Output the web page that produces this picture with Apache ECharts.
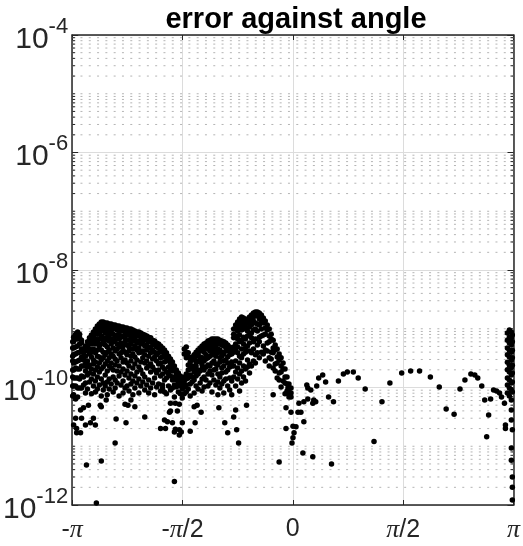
<!DOCTYPE html>
<html>
<head>
<meta charset="utf-8">
<script src="https://cdn.jsdelivr.net/npm/echarts@6/dist/echarts.min.js"></script>
<style>
html, body { margin: 0; padding: 0; background: #fff; }
#chart { width: 523px; height: 546px; }
</style>
</head>
<body>
<div id="chart"></div>
<script>
// Tick labels
const xTickLabels = ['-π', '-π/2', '0', 'π/2', 'π'];
const yTickExponents = [-12, -10, -8, -6, -4];

// Dense bands: one angle per column, with the errors stacked in that column
const bandAngles = [
  -3.134, -3.121, -3.092, -3.064, -3.036, -3.008, -2.980, -2.952, -2.924, -2.895,
  -2.867, -2.839, -2.811, -2.783, -2.755, -2.727, -2.699, -2.671, -2.642, -2.614,
  -2.586, -2.558, -2.530, -2.502, -2.474, -2.446, -2.417, -2.389, -2.361, -2.333,
  -2.305, -2.277, -2.249, -2.220, -2.192, -2.164, -2.136, -2.108, -2.080, -2.052,
  -2.024, -1.996, -1.968, -1.939, -1.911, -1.883, -1.855, -1.827, -1.799, -1.770,
  -1.742, -1.714, -1.686, -1.658, -1.630, -1.602, -1.574,
  -1.546, -1.517, -1.489, -1.461, -1.433, -1.405, -1.377, -1.349, -1.320, -1.292,
  -1.264, -1.236, -1.208, -1.180, -1.152, -1.124, -1.096, -1.067, -1.039, -1.011,
  -0.983, -0.955, -0.927, -0.899, -0.870,
  -0.842, -0.814, -0.786, -0.758, -0.730, -0.702, -0.674, -0.645, -0.617, -0.589,
  -0.561, -0.533, -0.505, -0.477, -0.448, -0.420, -0.392, -0.364, -0.336, -0.308,
  -0.280, -0.251, -0.223, -0.195, -0.167, -0.139, -0.111, -0.083, -0.055, -0.026,
  3.055, 3.083, 3.111, 3.125
];
const bandErrors = [
  [6.0e-10, 4.7e-10, 3.4e-10, 2.83e-10, 1.99e-10, 1.51e-10, 1.06e-10, 7.2e-11],
  [7.2e-10, 6.0e-10, 4.7e-10, 3.6e-10, 2.62e-10, 1.99e-10, 1.45e-10, 1.06e-10, 7.5e-11],
  [8.1e-10, 6.7e-10, 4.9e-10, 3.7e-10, 2.72e-10, 2.15e-10, 1.45e-10, 1.06e-10, 6.4e-11],
  [8.8e-10, 7.8e-10, 6.7e-10, 5.1e-10, 3.9e-10, 2.83e-10, 2.06e-10, 1.45e-10, 9.8e-11, 6.9e-11],
  [8.1e-10, 7.0e-10, 5.5e-10, 4.0e-10, 2.94e-10, 2.06e-10, 1.4e-10, 9.8e-11],
  [6.4e-10, 5.7e-10, 4.5e-10, 3.3e-10, 2.32e-10, 1.57e-10, 9.8e-11],
  [4.5e-10, 3.9e-10, 2.94e-10, 2.32e-10, 1.51e-10, 1.1e-10],
  [5.1e-10, 4.5e-10, 3.4e-10, 2.52e-10, 1.91e-10, 1.19e-10, 8.1e-11],
  [6.0e-10, 5.1e-10, 4.2e-10, 2.83e-10, 2.23e-10, 1.63e-10, 9.4e-11],
  [7.0e-10, 6.2e-10, 4.5e-10, 3.7e-10, 2.42e-10, 1.77e-10, 1.24e-10],
  [7.8e-10, 7.0e-10, 5.5e-10, 4.0e-10, 3.3e-10, 2.06e-10, 1.4e-10, 7.8e-11],
  [8.8e-10, 7.5e-10, 6.2e-10, 4.5e-10, 2.94e-10, 2.52e-10, 1.7e-10, 1.06e-10],
  [9.9e-10, 8.8e-10, 6.7e-10, 5.5e-10, 3.9e-10, 2.72e-10, 1.99e-10, 1.29e-10, 8.4e-11],
  [1.11e-9, 9.5e-10, 8.1e-10, 6.0e-10, 4.35e-10, 3.4e-10, 2.23e-10, 1.51e-10, 9.4e-11],
  [1.2e-9, 1.07e-9, 8.5e-10, 6.7e-10, 5.1e-10, 3.3e-10, 2.62e-10, 1.84e-10, 1.1e-10],
  [1.3e-9, 1.16e-9, 9.2e-10, 7.5e-10, 5.5e-10, 4.35e-10, 2.94e-10, 2.06e-10, 1.4e-10, 7.2e-11],
  [1.3e-9, 1.11e-9, 9.9e-10, 7.0e-10, 6.0e-10, 4.0e-10, 3.2e-10, 2.23e-10, 1.19e-10, 9.1e-11],
  [1.25e-9, 1.07e-9, 8.5e-10, 6.4e-10, 5.3e-10, 3.6e-10, 2.52e-10, 1.63e-10, 1.06e-10],
  [1.25e-9, 1.11e-9, 9.2e-10, 7.2e-10, 4.9e-10, 4.0e-10, 2.83e-10, 1.91e-10, 1.24e-10, 7.5e-11],
  [1.2e-9, 1.03e-9, 7.8e-10, 6.2e-10, 4.35e-10, 3.2e-10, 2.32e-10, 1.4e-10, 9.4e-11],
  [1.2e-9, 1.07e-9, 8.8e-10, 6.7e-10, 5.5e-10, 3.7e-10, 2.62e-10, 2.15e-10, 1.15e-10],
  [1.16e-9, 9.9e-10, 8.1e-10, 6.0e-10, 4.7e-10, 3.4e-10, 1.99e-10, 1.51e-10, 8.4e-11],
  [1.16e-9, 1.03e-9, 7.5e-10, 6.4e-10, 4.2e-10, 3.06e-10, 2.42e-10, 1.34e-10, 9.8e-11],
  [1.11e-9, 9.5e-10, 7.8e-10, 5.5e-10, 4.5e-10, 2.83e-10, 1.91e-10, 1.19e-10],
  [1.11e-9, 9.9e-10, 8.1e-10, 6.7e-10, 4.9e-10, 3.7e-10, 2.32e-10, 1.57e-10, 7.2e-11],
  [1.07e-9, 9.2e-10, 7.2e-10, 5.7e-10, 3.9e-10, 3.2e-10, 1.84e-10, 1.1e-10],
  [1.07e-9, 9.5e-10, 7.5e-10, 5.1e-10, 4.35e-10, 2.72e-10, 2.06e-10, 1.29e-10, 8.1e-11],
  [1.03e-9, 8.8e-10, 7.0e-10, 6.0e-10, 4.0e-10, 2.94e-10, 1.63e-10, 9.8e-11],
  [1.03e-9, 9.2e-10, 7.8e-10, 5.3e-10, 3.6e-10, 2.62e-10, 1.91e-10, 1.06e-10],
  [9.9e-10, 8.5e-10, 6.4e-10, 4.9e-10, 4.2e-10, 2.32e-10, 1.45e-10, 8.7e-11],
  [9.9e-10, 8.8e-10, 7.2e-10, 5.5e-10, 3.4e-10, 2.83e-10, 1.7e-10, 1.15e-10],
  [9.5e-10, 8.1e-10, 6.2e-10, 4.5e-10, 3.7e-10, 2.15e-10, 1.29e-10, 7.5e-11],
  [9.2e-10, 7.8e-10, 6.7e-10, 5.1e-10, 3.3e-10, 2.52e-10, 1.57e-10, 9.8e-11],
  [8.8e-10, 7.5e-10, 5.7e-10, 4.35e-10, 2.94e-10, 1.84e-10, 1.19e-10],
  [8.8e-10, 7.8e-10, 6.2e-10, 4.7e-10, 3.9e-10, 2.23e-10, 1.4e-10, 8.1e-11],
  [8.5e-10, 7.2e-10, 5.5e-10, 4.0e-10, 2.72e-10, 1.99e-10, 1.06e-10],
  [8.1e-10, 7.0e-10, 6.0e-10, 4.2e-10, 3.2e-10, 1.7e-10, 1.24e-10],
  [7.8e-10, 6.7e-10, 5.1e-10, 3.6e-10, 2.62e-10, 1.51e-10, 9.1e-11],
  [7.5e-10, 6.4e-10, 5.3e-10, 4.35e-10, 2.83e-10, 2.15e-10, 1.1e-10],
  [7.2e-10, 6.2e-10, 4.7e-10, 3.4e-10, 2.32e-10, 1.34e-10, 8.1e-11],
  [7.0e-10, 6.0e-10, 4.9e-10, 3.9e-10, 2.52e-10, 1.84e-10, 9.8e-11],
  [6.4e-10, 5.7e-10, 4.35e-10, 3.06e-10, 2.23e-10, 1.19e-10],
  [6.2e-10, 5.3e-10, 4.0e-10, 3.3e-10, 1.99e-10, 1.45e-10, 7.5e-11],
  [5.7e-10, 4.9e-10, 3.6e-10, 2.83e-10, 1.77e-10, 1.02e-10],
  [5.5e-10, 4.7e-10, 3.9e-10, 2.52e-10, 1.99e-10, 1.15e-10],
  [5.1e-10, 4.35e-10, 3.2e-10, 2.62e-10, 1.57e-10, 8.7e-11],
  [4.7e-10, 4.0e-10, 3.3e-10, 2.23e-10, 1.7e-10, 9.8e-11],
  [4.35e-10, 3.7e-10, 2.72e-10, 2.06e-10, 1.34e-10, 8.4e-11],
  [3.9e-10, 3.3e-10, 2.83e-10, 1.84e-10, 1.45e-10, 7.8e-11],
  [3.4e-10, 2.94e-10, 2.23e-10, 1.7e-10, 1.06e-10],
  [3.06e-10, 2.62e-10, 1.99e-10, 1.57e-10, 9.1e-11],
  [2.72e-10, 2.32e-10, 1.91e-10, 1.34e-10, 9.8e-11],
  [2.32e-10, 1.99e-10, 1.51e-10, 1.1e-10, 6.9e-11],
  [1.99e-10, 1.7e-10, 1.34e-10, 1.02e-10],
  [1.77e-10, 1.51e-10, 1.19e-10, 8.4e-11],
  [1.57e-10, 1.34e-10, 1.06e-10, 7.8e-11],
  [1.4e-10, 1.19e-10, 9.4e-11, 6.6e-11],
  [4.5e-10, 3.7e-10, 1.51e-10, 1.29e-10, 1.02e-10, 7.8e-11],
  [4.9e-10, 4.0e-10, 3.2e-10, 1.7e-10, 1.4e-10, 1.1e-10, 8.4e-11],
  [3.9e-10, 3.3e-10, 2.42e-10, 1.99e-10, 1.45e-10, 9.4e-11],
  [3.2e-10, 2.72e-10, 2.06e-10, 1.63e-10, 1.15e-10, 7.2e-11],
  [3.3e-10, 2.94e-10, 2.32e-10, 1.51e-10, 1.24e-10],
  [3.6e-10, 3.06e-10, 2.15e-10, 1.84e-10, 1.34e-10, 8.1e-11],
  [4.0e-10, 3.4e-10, 2.72e-10, 2.32e-10, 1.57e-10, 1.06e-10],
  [4.35e-10, 3.7e-10, 2.83e-10, 1.99e-10, 1.7e-10, 9.4e-11],
  [4.7e-10, 4.2e-10, 3.3e-10, 2.72e-10, 1.91e-10, 1.19e-10],
  [5.1e-10, 4.35e-10, 3.2e-10, 2.42e-10, 2.06e-10, 1.4e-10, 8.7e-11],
  [5.5e-10, 4.7e-10, 4.0e-10, 2.83e-10, 1.99e-10, 1.51e-10, 1.02e-10],
  [5.7e-10, 5.1e-10, 3.6e-10, 3.06e-10, 2.23e-10, 1.34e-10],
  [6.2e-10, 5.3e-10, 4.5e-10, 3.2e-10, 2.42e-10, 1.7e-10, 1.06e-10],
  [6.4e-10, 5.5e-10, 4.2e-10, 3.4e-10, 2.32e-10, 1.91e-10, 1.19e-10],
  [6.7e-10, 5.7e-10, 4.9e-10, 3.6e-10, 2.62e-10, 1.63e-10, 8.4e-11],
  [6.7e-10, 6.0e-10, 4.35e-10, 3.7e-10, 2.83e-10, 1.99e-10, 1.34e-10],
  [6.7e-10, 5.7e-10, 5.1e-10, 3.4e-10, 2.52e-10, 2.06e-10, 1.1e-10],
  [6.7e-10, 6.0e-10, 4.5e-10, 3.9e-10, 2.42e-10, 1.7e-10, 1.24e-10, 7.5e-11],
  [6.4e-10, 5.5e-10, 4.35e-10, 3.2e-10, 2.72e-10, 1.51e-10, 9.8e-11],
  [6.2e-10, 5.3e-10, 4.0e-10, 3.4e-10, 2.15e-10, 1.77e-10, 1.15e-10],
  [6.0e-10, 5.1e-10, 3.7e-10, 2.83e-10, 2.32e-10, 1.29e-10, 8.1e-11],
  [5.7e-10, 4.9e-10, 4.2e-10, 2.94e-10, 1.84e-10, 1.4e-10],
  [5.3e-10, 4.5e-10, 3.3e-10, 2.62e-10, 1.99e-10, 1.06e-10],
  [4.9e-10, 4.2e-10, 3.6e-10, 2.23e-10, 1.45e-10, 9.1e-11],
  [4.5e-10, 3.7e-10, 2.72e-10, 2.32e-10, 1.29e-10, 7.5e-11],
  [9.9e-10, 8.1e-10, 7.0e-10, 4.9e-10, 4.0e-10, 2.32e-10, 1.51e-10],
  [1.16e-9, 9.9e-10, 7.5e-10, 5.5e-10, 4.35e-10, 2.83e-10, 1.84e-10, 1.06e-10],
  [1.3e-9, 1.11e-9, 9.2e-10, 6.7e-10, 4.9e-10, 3.9e-10, 2.15e-10, 1.4e-10],
  [1.47e-9, 1.25e-9, 1.03e-9, 7.8e-10, 6.0e-10, 3.4e-10, 2.62e-10, 1.7e-10, 8.7e-11],
  [1.59e-9, 1.41e-9, 1.11e-9, 9.5e-10, 6.4e-10, 4.5e-10, 3.2e-10, 1.91e-10, 1.19e-10],
  [1.52e-9, 1.3e-9, 9.9e-10, 7.2e-10, 5.5e-10, 3.7e-10, 2.32e-10, 1.51e-10],
  [1.41e-9, 1.2e-9, 1.03e-9, 6.7e-10, 4.7e-10, 4.0e-10, 2.06e-10, 1.29e-10],
  [1.47e-9, 1.25e-9, 9.2e-10, 7.5e-10, 5.1e-10, 2.94e-10, 2.23e-10],
  [1.59e-9, 1.35e-9, 1.07e-9, 7.8e-10, 5.7e-10, 4.2e-10, 2.52e-10, 1.77e-10],
  [1.71e-9, 1.47e-9, 1.16e-9, 8.5e-10, 7.0e-10, 3.9e-10, 2.32e-10],
  [1.85e-9, 1.59e-9, 1.35e-9, 9.5e-10, 6.0e-10, 4.5e-10, 2.83e-10],
  [1.93e-9, 1.71e-9, 1.25e-9, 9.9e-10, 6.7e-10, 3.6e-10, 2.62e-10],
  [1.93e-9, 1.65e-9, 1.2e-9, 9.2e-10, 5.3e-10, 3.9e-10],
  [1.85e-9, 1.47e-9, 1.16e-9, 7.2e-10, 6.0e-10, 3.2e-10],
  [1.71e-9, 1.35e-9, 9.9e-10, 7.5e-10, 4.0e-10],
  [1.52e-9, 1.25e-9, 7.8e-10, 5.1e-10, 3.7e-10],
  [1.35e-9, 1.03e-9, 8.1e-10, 4.35e-10, 2.83e-10],
  [1.16e-9, 9.5e-10, 5.7e-10, 4.2e-10],
  [9.9e-10, 7.5e-10, 6.0e-10, 3.2e-10, 2.32e-10],
  [8.1e-10, 6.7e-10, 4.0e-10, 3.06e-10],
  [6.4e-10, 4.7e-10, 3.9e-10, 2.15e-10],
  [5.3e-10, 4.35e-10, 2.52e-10, 1.91e-10],
  [4.5e-10, 3.3e-10, 2.62e-10, 1.45e-10],
  [3.7e-10, 2.94e-10, 1.77e-10, 1.34e-10],
  [3.2e-10, 2.32e-10, 1.84e-10, 1.02e-10],
  [2.62e-10, 2.06e-10, 1.29e-10],
  [2.06e-10, 1.51e-10, 1.19e-10, 7.8e-11],
  [1.51e-10, 1.15e-10, 8.7e-11],
  [1.15e-10, 9.4e-11, 6.9e-11],
  [9.8e-11, 8.1e-11],
  [8.5e-10, 6.4e-10, 4.7e-10, 3.6e-10, 2.7e-10, 2.0e-10, 1.45e-10, 1.1e-10, 8.1e-11],
  [9.5e-10, 7.2e-10, 5.7e-10, 4.3e-10, 3.3e-10, 2.4e-10, 1.84e-10, 1.34e-10, 9.8e-11, 7.2e-11],
  [8.8e-10, 7.0e-10, 5.3e-10, 4.0e-10, 2.9e-10, 2.2e-10, 1.63e-10, 1.19e-10, 9.1e-11, 6.1e-11, 4.15e-11, 2.8e-11, 9.3e-12, 5.8e-12],
  [7.8e-10, 6.0e-10, 4.3e-10, 3.2e-10, 2.4e-10, 1.77e-10, 1.24e-10, 8.4e-11, 1.9e-11, 3.0e-12, 2.0e-12, 1.22e-12]
];

// Isolated samples [angle, error]
const loosePoints = [
  [-3.121, 2.3e-11], [-3.078, 1.7e-11], [-3.022, 1.7e-11], [-3.008, 3.0e-11], [-2.952, 2.3e-11],
  [-2.980, 4.5e-11], [-2.910, 5.0e-11], [-2.839, 3.0e-11], [-2.811, 2.3e-11], [-2.741, 5.0e-11],
  [-2.657, 6.1e-11], [-2.516, 2.9e-11], [-2.375, 2.5e-11], [-2.389, 5.2e-11], [-2.347, 5.0e-11],
  [-2.249, 4.7e-11], [-2.108, 3.15e-11], [-1.883, 2.0e-11], [-2.530, 1.14e-11], [-2.938, 4.8e-12],
  [-2.727, 5.6e-12], [-2.797, 1.08e-12], [-1.686, 2.5e-12], [-1.827, 2.8e-11], [-1.785, 2.6e-11],
  [-1.714, 2.5e-11], [-1.672, 1.95e-11], [-1.616, 1.9e-11], [-1.616, 1.55e-11], [-1.574, 2.5e-11],
  [-1.742, 5.4e-11], [-1.672, 5.4e-11], [-1.616, 5.2e-11], [-1.742, 4.0e-11], [-1.644, 4.0e-11],
  [-1.461, 1.8e-11], [-1.405, 4.7e-11], [-1.363, 5.0e-11], [-1.306, 3.8e-11], [-1.053, 4.5e-11],
  [-0.969, 2.5e-11], [-0.927, 1.7e-11], [-0.842, 3.15e-11], [-0.814, 4.15e-11], [-0.800, 1.9e-11],
  [-0.772, 1.14e-11], [-0.659, 5.0e-11], [-3.022, 4.15e-11], [-3.092, 3.0e-11], [-3.078, 2.0e-11],
  [-2.881, 2.5e-11], [-2.727, 4.7e-11], [-2.305, 6.1e-11], [-1.813, 2.0e-11], [-1.756, 3.8e-11],
  [-1.686, 1.75e-11], [-1.588, 1.75e-11], [-1.391, 2.5e-11], [-1.855, 1.1e-10],
  [-0.280, 7.5e-11], [-0.097, 4.5e-11], [-0.026, 3.8e-11], [0.073, 3.8e-11], [0.115, 3.8e-11],
  [0.087, 5.4e-11], [0.157, 5.7e-11], [0.284, 5.4e-11], [0.326, 5.7e-11], [0.579, 5.7e-11],
  [-0.097, 2.0e-11], [0.002, 2.2e-11], [0.045, 2.15e-11], [0.017, 1.7e-11], [0.002, 1.4e-11],
  [-0.012, 1.14e-11], [0.157, 2.6e-11], [-0.195, 5.4e-12], [0.143, 7.7e-12], [0.284, 6.6e-12],
  [0.551, 5.0e-12], [1.156, 1.2e-11], [0.199, 1.1e-10], [0.213, 9.8e-11], [0.256, 9.1e-11],
  [0.213, 6.4e-11], [0.340, 1.06e-10], [0.368, 1.45e-10], [0.425, 1.63e-10], [0.467, 1.24e-10],
  [0.509, 6.9e-11], [0.649, 1.29e-10], [0.720, 1.7e-10], [0.776, 1.84e-10], [0.861, 1.84e-10],
  [0.931, 1.45e-10], [1.030, 9.4e-11], [1.269, 5.7e-11], [1.382, 1.19e-10], [1.550, 1.77e-10],
  [1.677, 1.9e-10], [1.804, 1.9e-10], [1.958, 1.51e-10], [2.085, 1.02e-10], [2.183, 4.3e-11],
  [2.296, 3.5e-11], [2.380, 9.4e-11], [2.450, 1.34e-10], [2.535, 1.7e-10], [2.591, 1.63e-10],
  [2.633, 1.45e-10], [2.690, 1.06e-10], [2.732, 6.1e-11], [2.760, 1.45e-11], [2.788, 3.4e-11],
  [2.816, 6.4e-11], [2.858, 9.1e-11], [2.901, 8.7e-11], [2.943, 8.1e-11], [2.971, 6.9e-11],
  [3.013, 5.4e-11], [3.027, 2.3e-11], [3.027, 2.0e-11],
  [-0.069, 9.8e-11], [-0.055, 8.1e-11], [-0.026, 6.9e-11], [0.298, 6.1e-11]
];

const HALF_PI = Math.PI / 2;
const AXIS_COLOR = '#262626';
const SANS = 'Liberation Sans, Arial, sans-serif';
const SERIF = 'Liberation Serif, Times New Roman, serif';

const samples = [];
bandAngles.forEach((a, i) => bandErrors[i].forEach(e => samples.push([a, e])));
loosePoints.forEach(p => samples.push(p));

// Log-axis sub-decade grid: 2..9 in every decade plus the unlabelled odd decades
const minorLevels = [];
for (let k = yTickExponents[0]; k < yTickExponents[yTickExponents.length - 1]; k++) {
  for (let m = 1; m <= 9; m++) {
    if (m === 1 && yTickExponents.indexOf(k) >= 0) continue;
    minorLevels.push([0, m * Math.pow(10, k)]);
  }
}

function xLabel(v) {
  const s = xTickLabels[Math.round(v / HALF_PI) + 2];
  if (s === undefined) return '';
  return s.split('').map(c => c === 'π' ? '{p|π}' : '{t|' + c + '}').join('');
}
function yLabel(v) {
  const e = Math.round(Math.log10(v));
  if (yTickExponents.indexOf(e) < 0) return '';
  return '{b|10}{s|' + e + '}';
}

const xCommon = {
  type: 'value', min: -Math.PI, max: Math.PI, interval: HALF_PI,
  axisLine: { show: true, onZero: false, lineStyle: { color: AXIS_COLOR, width: 1.5 } },
  axisTick: { show: true, inside: true, length: 5, lineStyle: { color: AXIS_COLOR, width: 1 } }
};
const yCommon = {
  type: 'log', logBase: 100, min: 1e-12, max: 1e-4,
  axisLine: { show: true, onZero: false, lineStyle: { color: AXIS_COLOR, width: 1.5 } },
  axisTick: { show: true, inside: true, length: 6, lineStyle: { color: AXIS_COLOR, width: 1 } }
};

const chart = echarts.init(document.getElementById('chart'));
chart.setOption({
  animation: false,
  backgroundColor: '#fff',
  title: {
    text: 'error against angle',
    left: 291, top: 0, textAlign: 'center',
    textStyle: { fontFamily: SANS, fontWeight: 'bold', fontSize: 29, color: '#000' }
  },
  grid: { left: 68, right: 8, top: 35, bottom: 41 },
  xAxis: [
    Object.assign({}, xCommon, {
      position: 'bottom',
      splitLine: { show: true, lineStyle: { color: '#dcdcdc', width: 1 } },
      axisLabel: {
        margin: 12, formatter: xLabel,
        rich: {
          t: { fontFamily: SANS, fontSize: 25, color: AXIS_COLOR },
          p: { fontFamily: SERIF, fontStyle: 'italic', fontSize: 26, color: AXIS_COLOR }
        }
      }
    }),
    Object.assign({}, xCommon, {
      position: 'top', splitLine: { show: false }, axisLabel: { show: false }
    })
  ],
  yAxis: [
    Object.assign({}, yCommon, {
      position: 'left',
      splitLine: { show: true, lineStyle: { color: '#dcdcdc', width: 1 } },
      axisLabel: {
        margin: 4, formatter: yLabel,
        rich: {
          b: { fontFamily: SANS, fontSize: 30, color: AXIS_COLOR, padding: [9, 0, 0, 0] },
          s: { fontFamily: SANS, fontSize: 22, color: AXIS_COLOR, verticalAlign: 'top' }
        }
      }
    }),
    Object.assign({}, yCommon, {
      position: 'right', splitLine: { show: false }, axisLabel: { show: false }
    })
  ],
  series: [
    {
      type: 'custom',
      xAxisIndex: 0, yAxisIndex: 0,
      silent: true, z: 1,
      data: minorLevels,
      renderItem(params, api) {
        const cs = params.coordSys;
        const y = api.coord([0, api.value(1)])[1];
        const left = cs.x, right = cs.x + cs.width;
        return {
          type: 'group',
          children: [
            { type: 'line', shape: { x1: left, y1: y, x2: right, y2: y },
              style: { stroke: '#b4b4b4', lineWidth: 1, lineDash: [2, 6.3] } },
            { type: 'line', shape: { x1: left, y1: y, x2: left + 3, y2: y },
              style: { stroke: AXIS_COLOR, lineWidth: 1 } },
            { type: 'line', shape: { x1: right - 3, y1: y, x2: right, y2: y },
              style: { stroke: AXIS_COLOR, lineWidth: 1 } }
          ]
        };
      }
    },
    {
      type: 'scatter',
      xAxisIndex: 0, yAxisIndex: 0,
      z: 3,
      symbol: 'circle', symbolSize: 5.5,
      itemStyle: { color: '#000', opacity: 1 },
      data: samples
    }
  ]
});
</script>
</body>
</html>
